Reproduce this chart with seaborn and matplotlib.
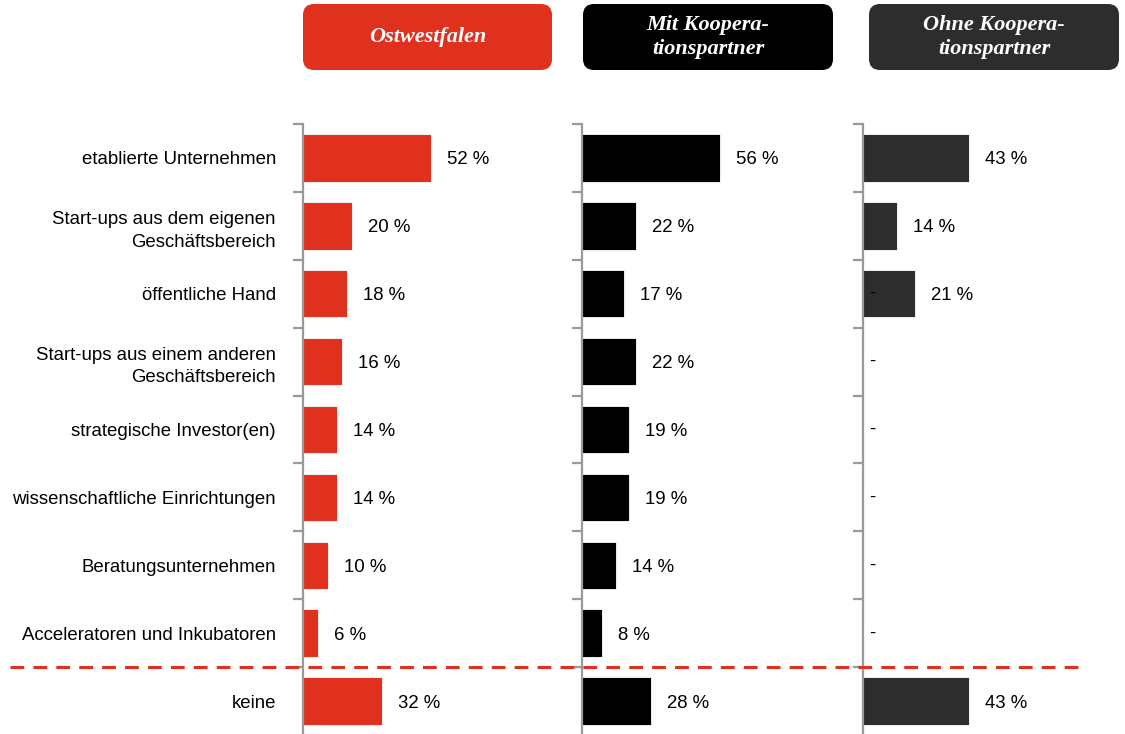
"""Kooperationspartner – Ostwestfalen vs. mit/ohne Kooperationspartner."""

import numpy as np
import pandas as pd
import matplotlib.pyplot as plt
import seaborn as sns
from matplotlib.patches import FancyBboxPatch
from matplotlib.lines import Line2D


categories = [
	'etablierte Unternehmen',
	'Start-ups aus dem eigenen\nGeschäftsbereich',
	'öffentliche Hand',
	'Start-ups aus einem anderen\nGeschäftsbereich',
	'strategische Investor(en)',
	'wissenschaftliche Einrichtungen',
	'Beratungsunternehmen',
	'Acceleratoren und Inkubatoren',
	'keine',
]
ostwestfalen = [52, 20, 18, 16, 14, 14, 10, 6, 32]
mit_partner = [56, 22, 17, 22, 19, 19, 14, 8, 28]
ohne_partner = [43, 14, 21, np.nan, np.nan, np.nan, np.nan, np.nan, 43]
# rows in the third panel that carry a "-" marker
ohne_dash_rows = [2, 3, 4, 5, 6, 7]

panel_titles = ['Ostwestfalen', 'Mit Koopera-\ntionspartner', 'Ohne Koopera-\ntionspartner']
panel_colors = ['#E0301E', '#000000', '#2D2D2D']


if __name__ == '__main__':

	df = pd.DataFrame({
		'category': categories,
		'Ostwestfalen': ostwestfalen,
		'Mit': mit_partner,
		'Ohne': ohne_partner,
	})

	sns.set_theme(style='white')
	plt.rcParams['font.family'] = ['Liberation Sans', 'DejaVu Sans']

	W, H = 1125, 734
	fig = plt.figure(figsize=(W / 100, H / 100), dpi=100)

	ax_left = [303, 582, 863]
	ax_w = 257
	px_per_pct = 2.46
	xmax = ax_w / px_per_pct
	top_px = 124
	fs = 13.4

	axes = []
	for k, (col, color) in enumerate(zip(['Ostwestfalen', 'Mit', 'Ohne'], panel_colors)):
		ax = fig.add_axes([ax_left[k] / W, 0, ax_w / W, (H - top_px) / H])
		sub = df.dropna(subset=[col])
		sns.barplot(data=sub, x=col, y='category', order=categories, ax=ax,
			color=color, width=0.7, orient='h', saturation=1,
			edgecolor='white', linewidth=0.6)
		ax.set_xlim(0, xmax)
		ax.set_ylim(8 + 33 / 68, -0.5)
		sns.despine(ax=ax, top=True, right=True, bottom=True)
		ax.spines['left'].set_color('#9A9A9A')
		ax.spines['left'].set_linewidth(1.6)
		ax.set_xticks([])
		ax.set_xlabel('')
		ax.set_ylabel('')

		ax.set_yticks(range(len(categories)))
		ax.set_yticks(np.arange(-0.5, len(categories) - 0.5, 1.0), minor=True)
		ax.tick_params(axis='y', which='major', length=0, pad=19.5)
		ax.tick_params(axis='y', which='minor', length=7, width=1.6,
			color='#9A9A9A', left=True)
		if k == 0:
			ax.set_yticklabels(categories, fontsize=fs, color='#000000',
				ha='right', multialignment='right', linespacing=1.45)
		else:
			ax.set_yticklabels([])

		for i, v in enumerate(df[col]):
			if not np.isnan(v):
				ax.text(v + 6.5, i, f'{int(v)} %', va='center_baseline', ha='left',
					fontsize=fs, color='#000000')
		if col == 'Ohne':
			for i in ohne_dash_rows:
				ax.text(2.3, i, '-', va='center', ha='left', fontsize=fs,
					color='#000000')
		axes.append(ax)

	# overlay in pixel coordinates for the header boxes and separator
	ov = fig.add_axes([0, 0, 1, 1])
	ov.set_xlim(0, W)
	ov.set_ylim(H, 0)
	ov.axis('off')
	ov.patch.set_alpha(0)

	boxes = [(303, 552), (583, 833), (869, 1119)]
	for (x0, x1), title, color in zip(boxes, panel_titles, panel_colors):
		ov.add_patch(FancyBboxPatch((x0, 4), x1 - x0, 66,
			boxstyle='round,pad=0,rounding_size=11',
			facecolor=color, edgecolor='none'))
		ov.text((x0 + x1) / 2, 37, title, ha='center', va='center',
			color='white', fontsize=16, fontstyle='italic', fontweight='bold',
			family='Liberation Serif', linespacing=1.3)

	ov.add_line(Line2D([10, 1080], [667, 667], color='#E0301E', lw=2.2,
		dashes=(4.5, 3)))

	plt.savefig('out.png', dpi=100)
	plt.close()
